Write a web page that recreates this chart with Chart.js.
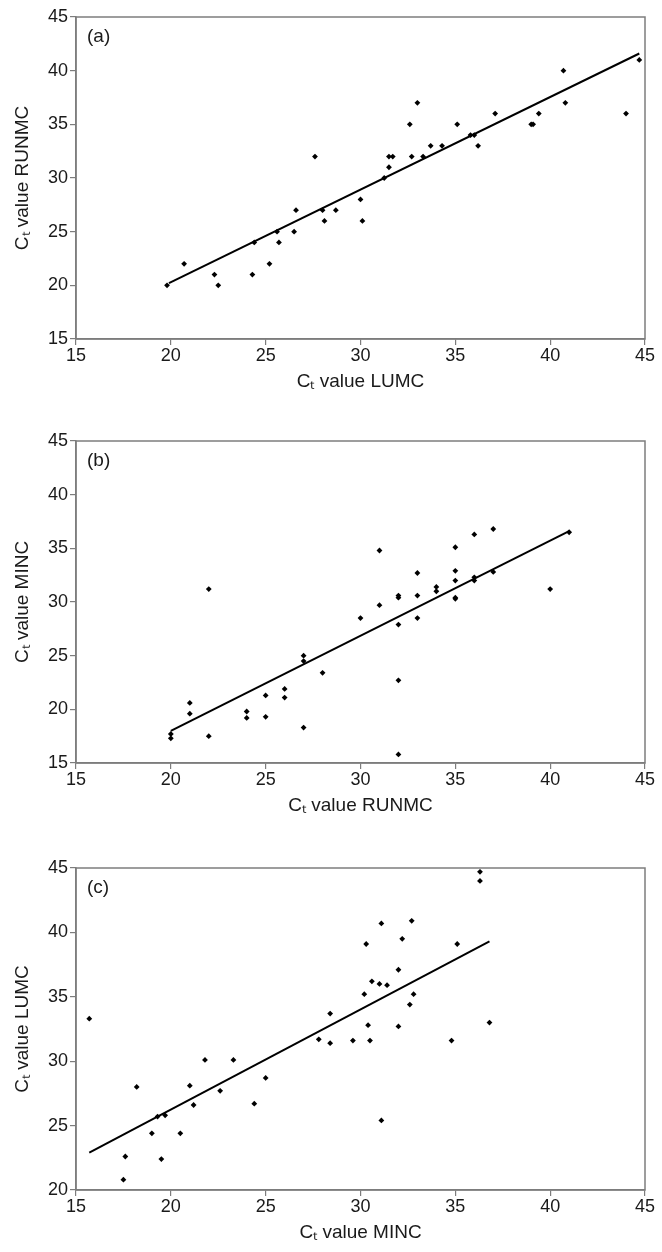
<!DOCTYPE html>
<html><head><meta charset="utf-8">
<script src="https://cdn.jsdelivr.net/npm/chart.js@4.4.1/dist/chart.umd.min.js"></script>
<style>
html,body{margin:0;padding:0;background:#fff;}
body{width:662px;height:1252px;position:relative;overflow:hidden;}
canvas{position:absolute;left:0;}
</style></head><body>
<canvas id="ca" width="662" height="401" style="top:0px"></canvas>
<canvas id="cb" width="662" height="401" style="top:424px"></canvas>
<canvas id="cc" width="662" height="401" style="top:851px"></canvas>
<script>
// ---- tick labels ----
const ticksX = [15, 20, 25, 30, 35, 40, 45];
const ticksYab = [15, 20, 25, 30, 35, 40, 45];
const ticksYc = [20, 25, 30, 35, 40, 45];

// ---- panel (a): LUMC (x) vs RUNMC (y) ----
const aX = [19.8, 20.7, 22.3, 22.5, 24.3, 24.4, 25.2, 25.6, 25.7, 26.5, 26.6, 27.6, 28.0, 28.1, 28.7, 30.0, 30.1, 31.25, 31.5, 31.5, 31.7, 32.6, 32.7, 33.0, 33.3, 33.7, 34.3, 35.1, 35.8, 36.0, 36.2, 37.1, 39.0, 39.1, 39.4, 40.7, 40.8, 44.0, 44.7];
const aY = [20, 22, 21, 20, 21, 24, 22, 25, 24, 25, 27, 32, 27, 26, 27, 28, 26, 30, 31, 32, 32, 35, 32, 37, 32, 33, 33, 35, 34, 34, 33, 36, 35, 35, 36, 40, 37, 36, 41];
const aLineX = [19.9, 44.7];
const aLineY = [20.2, 41.6];

// ---- panel (b): RUNMC (x) vs MINC (y) ----
const bX = [20, 20, 21, 21, 22, 22, 24, 24, 25, 25, 26, 26, 27, 27, 27, 28, 30, 31, 31, 32, 32, 32, 32, 32, 33, 33, 33, 34, 34, 35, 35, 35, 35, 35, 36, 36, 36, 37, 37, 40, 41];
const bY = [17.7, 17.3, 20.6, 19.6, 31.2, 17.5, 19.8, 19.2, 21.3, 19.3, 21.9, 21.1, 25.0, 24.5, 18.3, 23.4, 28.5, 34.8, 29.7, 30.6, 30.4, 27.9, 22.7, 15.8, 32.7, 30.6, 28.5, 31.4, 31.0, 35.1, 32.9, 32.0, 30.4, 30.3, 36.3, 32.3, 32.0, 36.8, 32.8, 31.2, 36.5];
const bLineX = [20, 41];
const bLineY = [18.0, 36.6];

// ---- panel (c): MINC (x) vs LUMC (y) ----
const cX = [15.7, 17.5, 17.6, 18.2, 19.0, 19.3, 19.5, 19.7, 20.5, 21.0, 21.2, 21.8, 22.6, 23.3, 24.4, 25.0, 27.8, 28.4, 28.4, 29.6, 30.2, 30.3, 30.4, 30.5, 30.6, 31.0, 31.1, 31.1, 31.4, 32.0, 32.0, 32.2, 32.6, 32.7, 32.8, 34.8, 35.1, 36.3, 36.3, 36.8];
const cY = [33.3, 20.8, 22.6, 28.0, 24.4, 25.7, 22.4, 25.8, 24.4, 28.1, 26.6, 30.1, 27.7, 30.1, 26.7, 28.7, 31.7, 33.7, 31.4, 31.6, 35.2, 39.1, 32.8, 31.6, 36.2, 36.0, 40.7, 25.4, 35.9, 37.1, 32.7, 39.5, 34.4, 40.9, 35.2, 31.6, 39.1, 44.7, 44.0, 33.0];
const cLineX = [15.7, 36.8];
const cLineY = [22.9, 39.3];

const AXIS_GREY = '#7d7d7d';
const TEXT = '#1a1a1a';
const FONT = '"Liberation Sans", Arial, Helvetica, sans-serif';

const framePlugin = {
  id: 'frame',
  beforeDatasetsDraw(chart, args, opts) {
    const { ctx, chartArea: a } = chart;
    ctx.save();
    ctx.strokeStyle = AXIS_GREY;
    ctx.lineWidth = 1.5;
    ctx.strokeRect(a.left, a.top, a.right - a.left, a.bottom - a.top);
    ctx.fillStyle = TEXT;
    ctx.font = '19px ' + FONT;
    ctx.textBaseline = 'middle';
    ctx.textAlign = 'left';
    ctx.fillText(opts.label, a.left + 11, a.top + 20);
    ctx.restore();
  }
};

function pts(xs, ys) { return xs.map((x, i) => ({ x: x, y: ys[i] })); }

function makeChart(id, label, xs, ys, lx, ly, yTicks, xTitle, yTitle) {
  new Chart(document.getElementById(id), {
    type: 'scatter',
    data: {
      datasets: [
        {
          type: 'line', data: pts(lx, ly), borderColor: '#000', borderWidth: 2,
          pointRadius: 0, fill: false, tension: 0, order: 2
        },
        {
          type: 'scatter', data: pts(xs, ys), pointStyle: 'rectRot', pointRadius: 2.9,
          backgroundColor: '#000', borderColor: '#000', borderWidth: 0, order: 1
        }
      ]
    },
    options: {
      responsive: false,
      animation: false,
      layout: { padding: { top: 17, right: 17, left: 0, bottom: 0 } },
      plugins: { legend: { display: false }, tooltip: { enabled: false }, frame: { label: label } },
      scales: {
        x: {
          type: 'linear', min: ticksX[0], max: ticksX[ticksX.length - 1],
          afterBuildTicks: s => { s.ticks = ticksX.map(v => ({ value: v })); },
          afterFit: s => { s.height = 62; },
          grid: { drawOnChartArea: false, drawTicks: true, tickLength: 6, color: AXIS_GREY, lineWidth: 1.2 },
          border: { display: true, color: AXIS_GREY, width: 1.5 },
          ticks: { font: { size: 18, family: FONT }, color: TEXT, padding: 0, maxRotation: 0, autoSkip: false },
          title: { display: true, text: xTitle, font: { size: 19, family: FONT }, color: TEXT, padding: { top: 0, bottom: 8 } }
        },
        y: {
          type: 'linear', min: yTicks[0], max: yTicks[yTicks.length - 1],
          afterBuildTicks: s => { s.ticks = yTicks.map(v => ({ value: v })); },
          afterFit: s => { s.width = 76; },
          grid: { drawOnChartArea: false, drawTicks: true, tickLength: 6, color: AXIS_GREY, lineWidth: 1.2 },
          border: { display: true, color: AXIS_GREY, width: 1.5 },
          ticks: { font: { size: 18, family: FONT }, color: TEXT, padding: 2, autoSkip: false },
          title: { display: true, text: yTitle, font: { size: 19, family: FONT }, color: TEXT, padding: { top: 11, bottom: 0 } }
        }
      }
    },
    plugins: [framePlugin]
  });
}

makeChart('ca', '(a)', aX, aY, aLineX, aLineY, ticksYab, 'C\u209C value LUMC', 'C\u209C value RUNMC');
makeChart('cb', '(b)', bX, bY, bLineX, bLineY, ticksYab, 'C\u209C value RUNMC', 'C\u209C value MINC');
makeChart('cc', '(c)', cX, cY, cLineX, cLineY, ticksYc, 'C\u209C value MINC', 'C\u209C value LUMC');
</script>
</body></html>
